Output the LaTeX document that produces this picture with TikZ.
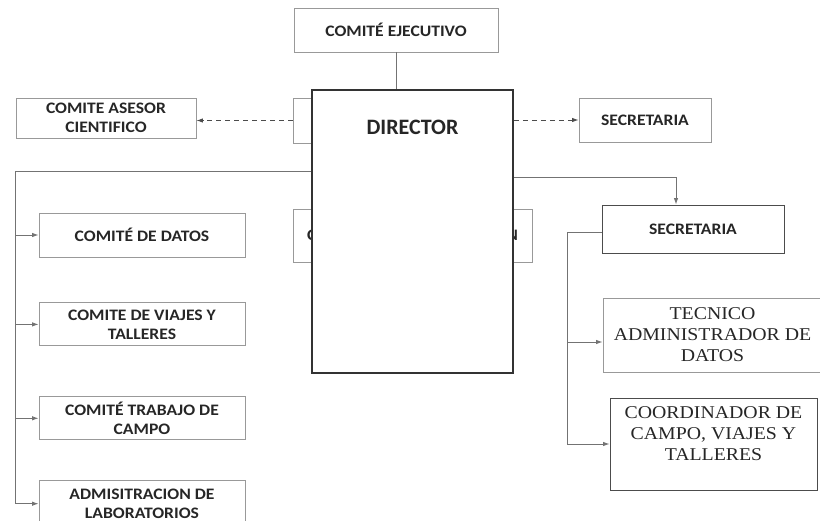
\documentclass[tikz,border=0pt]{standalone}
\usepackage{fontspec}
\setmainfont{Carlito}
\newfontfamily\boxfont{Carlito}[FakeStretch=1.1]
\newfontfamily\oldfont{Liberation Serif}[FakeStretch=1.1]
\usetikzlibrary{positioning, calc, arrows.meta}

\begin{document}
\begin{tikzpicture}[x=1pt, y=-1pt, >={Latex[length=6.5pt, width=4.5pt]}]
        \tikzstyle{unit}=[draw=black!40, line width=.9pt, rectangle, align=center, text=black!85, inner sep=0pt, font=\boxfont\bfseries\fontsize{16}{19}\selectfont];
        \tikzstyle{staff}=[unit, font=\oldfont\fontsize{18}{21}\selectfont];
        \tikzstyle{head}=[draw=black!80, line width=1.8pt, fill=white, rectangle];
        \tikzstyle{link}=[black!55, line width=.9pt];
        \tikzstyle{advice}=[black!70, line width=.9pt, dash pattern=on 5pt off 4pt];

        \useasboundingbox (0,0) rectangle (820,521);

        % hidden boxes behind the director
        \node[unit, minimum width=37pt, minimum height=45pt] (backtop) at (311.5,120.5) {};
        \node[unit, minimum width=239pt, minimum height=53pt] (backmid) at (412.5,235.5) {C\hspace{190pt}N};

        \node[unit, minimum width=204pt, minimum height=44pt] (ejec) at (396,30) {COMITÉ EJECUTIVO};
        \node[head, minimum width=201pt, minimum height=283pt] (dir) at (412.5,231.5) {};
        \node[font=\bfseries\fontsize{22}{26}\selectfont, text=black!85, inner sep=0pt] (dirname) at (412.5,127) {DIRECTOR};
        \node[unit, minimum width=180pt, minimum height=40pt] (asesor) at (106,118) {COMITE ASESOR\\CIENTIFICO};
        \node[unit, minimum width=132pt, minimum height=44pt] (secr) at (645,120) {SECRETARIA};

        % left column
        \node[unit, minimum width=206pt, minimum height=44pt] (datos) at (142,235) {COMITÉ DE DATOS};
        \node[unit, minimum width=206pt, minimum height=43pt, below=45pt of datos] (viajes) {COMITE DE VIAJES Y\\TALLERES};
        \node[unit, minimum width=206pt, minimum height=43pt, below=50pt of viajes] (trabajo) {COMITÉ TRABAJO DE\\CAMPO};
        \node[unit, minimum width=206pt, minimum height=46pt, below=40pt of trabajo] (lab) {ADMISITRACION DE\\LABORATORIOS};

        % right column
        \node[unit, draw=black!70, minimum width=182pt, minimum height=48pt] (secr2) at (693,229) {SECRETARIA};
        \node[staff, minimum width=219pt, minimum height=74pt] (tecnico) at (712.5,335) {TECNICO\\ADMINISTRADOR DE\\DATOS};
        \node[staff, draw=black!70, minimum width=207pt, minimum height=92pt,
          label={[font=\oldfont\fontsize{18}{21}\selectfont, align=center, text=black!85, yshift=10pt]center:{COORDINADOR DE\\CAMPO, VIAJES Y\\TALLERES}}] (coord) at (713.5,444) {};

        \coordinate (lbus) at (15,171);
        \coordinate (rbus) at (676,177);
        \coordinate (sbus) at (567,232);

        \draw[link] (ejec.south) -- (ejec.south |- dir.north);
        \draw[advice, ->] (backtop.west) -- (backtop.west -| asesor.east);
        \draw[advice, ->] (dir.east |- secr.west) -- (secr.west);

        \draw[link] (dir.west |- lbus) -- (lbus) -- (lbus |- lab.west);
        \path[link, ->]
        (lbus |- datos) edge (datos.west)
        (lbus |- viajes) edge (viajes.west)
        (lbus |- trabajo) edge (trabajo.west)
        (lbus |- lab) edge (lab.west);

        \draw[link, ->] (dir.east |- rbus) -- (rbus) -- (rbus |- secr2.north);
        \draw[link] (secr2.west |- sbus) -- (sbus) -- (sbus |- coord.west);
        \path[link, ->]
        ($(sbus |- tecnico)+(0,7)$) edge ($(tecnico.west)+(0,7)$)
        (sbus |- coord) edge (coord.west);
\end{tikzpicture}
\end{document}
